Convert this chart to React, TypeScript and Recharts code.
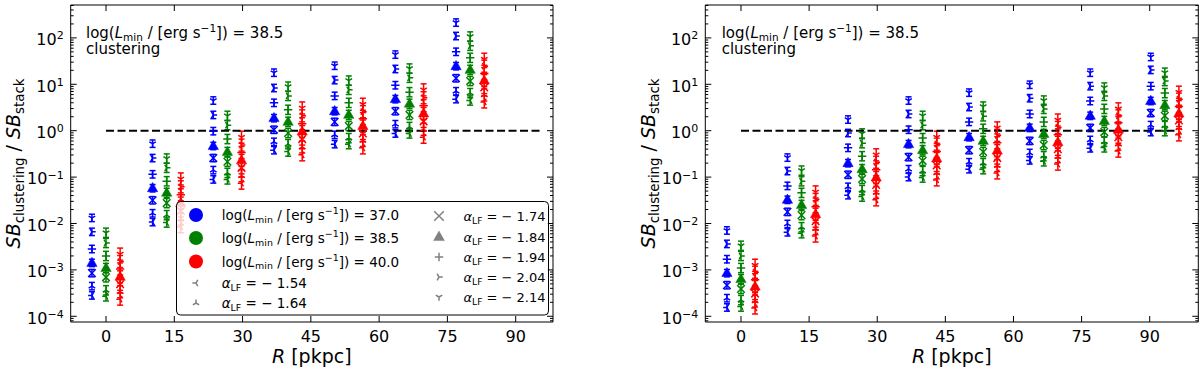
import React from 'react';
import { ScatterChart, Scatter, XAxis, YAxis, ErrorBar, ReferenceLine } from 'recharts';

const FONT = '"DejaVu Sans", sans-serif';

// alpha_LF values and the marker drawn for each
const alphaLF = [-1.54, -1.64, -1.74, -1.84, -1.94, -2.04, -2.14];
const alphaMarkers = ['tri_left', 'tri_up', 'x', 'triangle', 'plus', 'tri_right', 'tri_down'];
// log(Lmin) groups
const lminLabels = ['37.0', '38.5', '40.0'];
const groupColors = ['#0000ff', '#008000', '#ff0000'];
const groupOffsetR = [-3.1, 0, 3.1];
const groupErrDex = [0.08, 0.1, 0.13];

// radial bins [pkpc]
const binRLeft = [0, 13.33, 26.67, 40, 53.33, 66.67, 80];
const binRRight = [0, 13.33, 26.67, 40, 53.33, 66.67, 80, 93.33];

// log10(SB_clustering / SB_stack); rows = bins, columns = alphaLF order
const leftBlue = [
  [-3.55, -3.35, -3.07, -2.85, -2.55, -2.18, -1.88],
  [-1.97, -1.78, -1.5, -1.24, -0.94, -0.59, -0.28],
  [-1.05, -0.85, -0.59, -0.33, -0.01, 0.34, 0.65],
  [-0.42, -0.24, 0.02, 0.27, 0.6, 0.92, 1.25],
  [-0.29, -0.09, 0.19, 0.42, 0.75, 1.09, 1.4],
  [-0.06, 0.14, 0.42, 0.68, 0.98, 1.33, 1.64],
  [0.68, 0.85, 1.13, 1.39, 1.7, 2.04, 2.33],
];
const leftGreen = [
  [-3.57, -3.44, -3.16, -2.96, -2.7, -2.42, -2.2],
  [-1.98, -1.82, -1.56, -1.34, -1.09, -0.8, -0.6],
  [-1.05, -0.91, -0.67, -0.46, -0.18, 0.12, 0.32],
  [-0.45, -0.29, -0.05, 0.19, 0.45, 0.75, 0.95],
  [-0.29, -0.16, 0.1, 0.34, 0.6, 0.88, 1.08],
  [-0.06, 0.08, 0.34, 0.58, 0.83, 1.14, 1.34],
  [0.65, 0.81, 1.07, 1.31, 1.57, 1.83, 2.03],
];
const leftRed = [
  [-3.63, -3.47, -3.31, -3.15, -2.98, -2.82, -2.66],
  [-2.07, -1.9, -1.73, -1.56, -1.38, -1.21, -1.04],
  [-1.13, -0.97, -0.8, -0.64, -0.47, -0.31, -0.14],
  [-0.52, -0.35, -0.18, -0.02, 0.15, 0.32, 0.49],
  [-0.37, -0.21, -0.06, 0.1, 0.26, 0.41, 0.57],
  [-0.14, 0.03, 0.2, 0.37, 0.54, 0.71, 0.88],
  [0.62, 0.77, 0.93, 1.08, 1.23, 1.39, 1.54],
];
const rightBlue = [
  [-3.81, -3.61, -3.33, -3.07, -2.77, -2.44, -2.15],
  [-2.19, -2.01, -1.75, -1.49, -1.19, -0.87, -0.58],
  [-1.39, -1.21, -0.95, -0.7, -0.37, -0.05, 0.24],
  [-1.0, -0.83, -0.57, -0.29, 0.02, 0.36, 0.65],
  [-0.83, -0.68, -0.42, -0.14, 0.19, 0.51, 0.82],
  [-0.64, -0.48, -0.22, 0.06, 0.36, 0.7, 0.99],
  [-0.38, -0.2, 0.06, 0.32, 0.64, 0.96, 1.25],
  [-0.03, 0.12, 0.38, 0.64, 0.96, 1.31, 1.59],
];
const rightGreen = [
  [-3.79, -3.65, -3.41, -3.2, -2.96, -2.7, -2.48],
  [-2.21, -2.08, -1.82, -1.6, -1.34, -1.09, -0.86],
  [-1.42, -1.28, -1.04, -0.83, -0.55, -0.27, -0.06],
  [-1.01, -0.87, -0.65, -0.42, -0.16, 0.12, 0.32],
  [-0.83, -0.7, -0.46, -0.22, 0.04, 0.31, 0.52],
  [-0.66, -0.55, -0.31, -0.07, 0.19, 0.47, 0.65],
  [-0.36, -0.24, -0.03, 0.21, 0.47, 0.75, 0.93],
  [-0.01, 0.1, 0.32, 0.55, 0.81, 1.07, 1.25],
];
const rightRed = [
  [-3.82, -3.67, -3.51, -3.36, -3.21, -3.05, -2.9],
  [-2.27, -2.11, -1.95, -1.8, -1.64, -1.48, -1.32],
  [-1.49, -1.33, -1.17, -1.01, -0.84, -0.68, -0.52],
  [-1.06, -0.91, -0.75, -0.6, -0.45, -0.29, -0.14],
  [-0.91, -0.75, -0.59, -0.43, -0.26, -0.1, 0.06],
  [-0.72, -0.56, -0.4, -0.25, -0.09, 0.07, 0.23],
  [-0.44, -0.29, -0.14, 0.02, 0.17, 0.32, 0.47],
  [-0.09, 0.06, 0.22, 0.37, 0.52, 0.68, 0.83],
];

const xTicks = [0, 15, 30, 45, 60, 75, 90];
const refLineR = [0, 96];

// ---- axis configuration ----
const Y_MIN = Math.pow(10, -4.123);
const Y_MAX = Math.pow(10, 2.709);
const yTicks: number[] = [];
for (let e = -5; e <= 2; e++) {
  for (let k = 1; k <= 9; k++) {
    const v = k * Math.pow(10, e);
    if (v >= Y_MIN && v <= Y_MAX) yTicks.push(v);
  }
}
const isMajor = (v: number) => {
  const l = Math.log10(v);
  return Math.abs(l - Math.round(l)) < 1e-6;
};

function buildSeries(bins: number[], groups: number[][][]) {
  const out: any[] = [];
  groups.forEach((vals, g) => {
    alphaLF.forEach((_, a) => {
      const e = groupErrDex[g];
      const data = bins.map((R, i) => {
        const y = Math.pow(10, vals[i][a]);
        return { x: R + groupOffsetR[g], y, err: [y - y * Math.pow(10, -e), y * Math.pow(10, e) - y] };
      });
      out.push({ key: `${g}-${a}`, color: groupColors[g], marker: alphaMarkers[a], data });
    });
  });
  return out;
}

function Glyph({ type, cx, cy, color, s }: { type: string; cx: number; cy: number; color: string; s: number }) {
  const sw = 1.5;
  const arms = (pts: number[][]) => (
    <path
      d={pts.map((p) => `M${cx},${cy}L${cx + p[0] * s},${cy + p[1] * s}`).join('')}
      stroke={color}
      strokeWidth={sw}
      fill="none"
    />
  );
  switch (type) {
    case 'triangle': {
      const r = s * 1.25;
      return (
        <polygon
          points={`${cx},${cy - r} ${cx - r * 0.9},${cy + r * 0.6} ${cx + r * 0.9},${cy + r * 0.6}`}
          fill={color}
          stroke={color}
          strokeWidth={0.5}
        />
      );
    }
    case 'x':
      return (
        <path
          d={`M${cx - s},${cy - s}L${cx + s},${cy + s}M${cx - s},${cy + s}L${cx + s},${cy - s}`}
          stroke={color}
          strokeWidth={sw}
        />
      );
    case 'plus':
      return (
        <path
          d={`M${cx - s * 1.1},${cy}L${cx + s * 1.1},${cy}M${cx},${cy - s * 1.1}L${cx},${cy + s * 1.1}`}
          stroke={color}
          strokeWidth={sw}
        />
      );
    case 'tri_down':
      return arms([[0, 1], [-0.866, -0.5], [0.866, -0.5]]);
    case 'tri_up':
      return arms([[0, -1], [-0.866, 0.5], [0.866, 0.5]]);
    case 'tri_left':
      return arms([[-1, 0], [0.5, -0.866], [0.5, 0.866]]);
    case 'tri_right':
    default:
      return arms([[1, 0], [-0.5, -0.866], [-0.5, 0.866]]);
  }
}

const TICK_FS = 16;
const MAJ = 6;
const MIN = 3;

const XTickBottom = (p: any) => (
  <g>
    <line x1={p.x} y1={p.y} x2={p.x} y2={p.y - MAJ} stroke="#000" strokeWidth={1} />
    <text x={p.x} y={p.y + 19.5} textAnchor="middle" fontSize={TICK_FS} fontFamily={FONT} fill="#000">
      {p.payload.value}
    </text>
  </g>
);
const XTickTop = (p: any) => (
  <line x1={p.x} y1={p.y} x2={p.x} y2={p.y + MAJ} stroke="#000" strokeWidth={1} />
);
const YTickLeft = (p: any) => {
  const v = p.payload.value;
  const major = isMajor(v);
  const exp = Math.round(Math.log10(v));
  return (
    <g>
      <line x1={p.x} y1={p.y} x2={p.x + (major ? MAJ : MIN)} y2={p.y} stroke="#000" strokeWidth={1} />
      {major && (
        <text x={p.x - 7} y={p.y + 7.3} textAnchor="end" fontSize={TICK_FS} fontFamily={FONT} fill="#000">
          10
          <tspan fontSize={11} dy={-5.7}>
            {exp < 0 ? `\u2212${-exp}` : `${exp}`}
          </tspan>
        </text>
      )}
    </g>
  );
};
const YTickRight = (p: any) => {
  const major = isMajor(p.payload.value);
  return <line x1={p.x} y1={p.y} x2={p.x - (major ? MAJ : MIN)} y2={p.y} stroke="#000" strokeWidth={1} />;
};

function Panel({
  width,
  margin,
  xDomain,
  bins,
  groups,
}: {
  width: number;
  margin: any;
  xDomain: number[];
  bins: number[];
  groups: number[][][];
}) {
  const series = buildSeries(bins, groups);
  return (
    <ScatterChart width={width} height={375} margin={margin}>
      <XAxis
        xAxisId="b"
        type="number"
        dataKey="x"
        domain={xDomain}
        allowDataOverflow
        ticks={xTicks}
        interval={0}
        height={53}
        tickSize={0}
        tickMargin={0}
        tickLine={false}
        axisLine={{ stroke: '#000', strokeWidth: 1 }}
        tick={XTickBottom}
      />
      <XAxis
        xAxisId="t"
        orientation="top"
        type="number"
        dataKey="x"
        domain={xDomain}
        allowDataOverflow
        ticks={xTicks}
        interval={0}
        height={1}
        tickSize={0}
        tickMargin={0}
        tickLine={false}
        axisLine={{ stroke: '#000', strokeWidth: 1 }}
        tick={XTickTop}
      />
      <YAxis
        yAxisId="l"
        type="number"
        dataKey="y"
        scale="log"
        domain={[Y_MIN, Y_MAX]}
        allowDataOverflow
        ticks={yTicks}
        interval={0}
        width={60}
        tickSize={0}
        tickMargin={0}
        tickLine={false}
        axisLine={{ stroke: '#000', strokeWidth: 1 }}
        tick={YTickLeft}
      />
      <YAxis
        yAxisId="r"
        orientation="right"
        type="number"
        dataKey="y"
        scale="log"
        domain={[Y_MIN, Y_MAX]}
        allowDataOverflow
        ticks={yTicks}
        interval={0}
        width={1}
        tickSize={0}
        tickMargin={0}
        tickLine={false}
        axisLine={{ stroke: '#000', strokeWidth: 1 }}
        tick={YTickRight}
      />
      {series.map((s) => (
        <Scatter
          key={s.key}
          xAxisId="b"
          yAxisId="l"
          data={s.data}
          fill={s.color}
          isAnimationActive={false}
          shape={(p: any) => <Glyph type={s.marker} cx={p.cx} cy={p.cy} color={s.color} s={s.marker === 'triangle' ? 4.6 : 3.8} />}
        >
          <ErrorBar dataKey="err" direction="y" width={3} strokeWidth={1.5} stroke={s.color} />
        </Scatter>
      ))}
      <ReferenceLine
        xAxisId="b"
        yAxisId="l"
        segment={[
          { x: refLineR[0], y: 1 },
          { x: refLineR[1], y: 1 },
        ]}
        stroke="#000"
        strokeWidth={2}
        strokeDasharray="8 3.5"
        ifOverflow="visible"
      />
    </ScatterChart>
  );
}

function LminText({ x, y, val, fs }: { x: number; y: number; val: string; fs: number }) {
  return (
    <text x={x} y={y} fontSize={fs} fontFamily={FONT} fill="#000">
      log(
      <tspan fontStyle="italic">L</tspan>
      <tspan fontSize={fs * 0.7} dy={fs * 0.22}>
        min
      </tspan>
      <tspan dy={-fs * 0.22}>{' / [erg s'}</tspan>
      <tspan fontSize={fs * 0.7} dy={-fs * 0.42}>
        {'\u22121'}
      </tspan>
      <tspan dy={fs * 0.42}>{`]) = ${val}`}</tspan>
    </text>
  );
}

function AlphaText({ x, y, val, fs }: { x: number; y: number; val: number; fs: number }) {
  return (
    <text x={x} y={y} fontSize={fs} fontFamily={FONT} fill="#000">
      <tspan fontStyle="italic">α</tspan>
      <tspan fontSize={fs * 0.7} dy={fs * 0.22}>
        LF
      </tspan>
      <tspan dy={-fs * 0.22}>{` = \u2212 ${Math.abs(val).toFixed(2)}`}</tspan>
    </text>
  );
}

function YLabel({ cx, cy }: { cx: number; cy: number }) {
  const fs = 19;
  return (
    <text
      x={cx}
      y={cy}
      transform={`rotate(-90 ${cx} ${cy})`}
      textAnchor="middle"
      fontSize={fs}
      fontFamily={FONT}
      fill="#000"
    >
      <tspan fontStyle="italic">SB</tspan>
      <tspan fontSize={13.3} dy={4}>
        clustering
      </tspan>
      <tspan dy={-4}>{' / '}</tspan>
      <tspan fontStyle="italic">SB</tspan>
      <tspan fontSize={13.3} dy={4}>
        stack
      </tspan>
    </text>
  );
}

function XLabel({ cx, y }: { cx: number; y: number }) {
  return (
    <text x={cx} y={y} textAnchor="middle" fontSize={19} fontFamily={FONT} fill="#000">
      <tspan fontStyle="italic">R</tspan>
      {' [pkpc]'}
    </text>
  );
}

function Annotation({ x }: { x: number }) {
  return (
    <g>
      <LminText x={x} y={38} val="38.5" fs={15} />
      <text x={x} y={54} fontSize={15} fontFamily={FONT} fill="#000">
        clustering
      </text>
    </g>
  );
}

function LegendBox() {
  const fs = 13.5;
  const col1Rows = [215, 238, 261.5, 283, 303];
  const col2Rows = [216, 237, 257, 277, 297];
  const gray = '#808080';
  return (
    <g>
      <rect x={176.5} y={201.5} width={372} height={113.5} rx={4} fill="#fff" fillOpacity={0.8} stroke="#000" strokeWidth={1} />
      {lminLabels.map((l, i) => (
        <g key={l}>
          <circle cx={196} cy={col1Rows[i]} r={7} fill={groupColors[i]} />
          <LminText x={221.7} y={col1Rows[i] + 5} val={l} fs={fs} />
        </g>
      ))}
      {alphaLF.slice(0, 2).map((a, i) => (
        <g key={a}>
          <Glyph type={alphaMarkers[i]} cx={196} cy={col1Rows[3 + i]} color={gray} s={3.6} />
          <AlphaText x={221.7} y={col1Rows[3 + i] + 5} val={a} fs={fs} />
        </g>
      ))}
      {alphaLF.slice(2).map((a, i) => (
        <g key={a}>
          <Glyph
            type={alphaMarkers[2 + i]}
            cx={439}
            cy={col2Rows[i]}
            color={gray}
            s={alphaMarkers[2 + i] === 'triangle' ? 4.8 : alphaMarkers[2 + i] === 'x' ? 4.8 : 3.8}
          />
          <AlphaText x={463.5} y={col2Rows[i] + 5} val={a} fs={13} />
        </g>
      ))}
    </g>
  );
}

export default function App() {
  return (
    <div style={{ position: 'absolute', left: 0, top: 0, width: 1200, height: 375, background: '#fff', fontFamily: FONT }}>
      <div style={{ position: 'absolute', left: 0, top: 0 }}>
        <Panel
          width={560}
          margin={{ top: 4, right: 6, bottom: 0, left: 10.7 }}
          xDomain={[-7.76, 98.2]}
          bins={binRLeft}
          groups={[leftBlue, leftGreen, leftRed]}
        />
      </div>
      <div style={{ position: 'absolute', left: 560, top: 0 }}>
        <Panel
          width={640}
          margin={{ top: 4, right: 0.7, bottom: 0, left: 85.3 }}
          xDomain={[-7.86, 100.7]}
          bins={binRRight}
          groups={[rightBlue, rightGreen, rightRed]}
        />
      </div>
      <svg
        width={1200}
        height={375}
        style={{ position: 'absolute', left: 0, top: 0, pointerEvents: 'none' }}
      >
        <Annotation x={86} />
        <Annotation x={721.7} />
        <YLabel cx={20} cy={163.5} />
        <YLabel cx={655} cy={163.5} />
        <XLabel cx={311.8} y={363} />
        <XLabel cx={951.8} y={363} />
        <LegendBox />
      </svg>
    </div>
  );
}
